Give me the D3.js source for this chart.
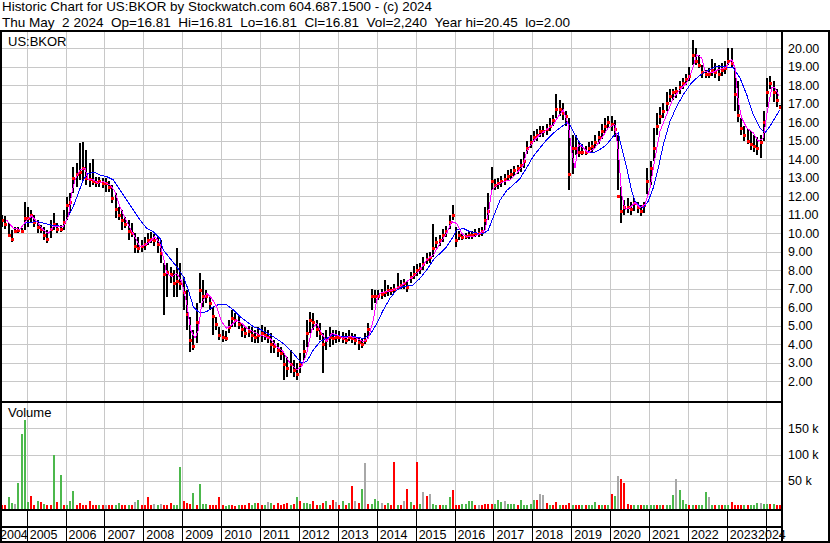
<!DOCTYPE html>
<html><head><meta charset="utf-8">
<script src="https://cdn.jsdelivr.net/npm/d3@7"></script>
<style>
body{margin:0;background:#fff;}
svg text{font-family:Arial,"Liberation Sans",sans-serif;fill:#000;}
</style>
</head><body>
<svg id="c" width="830" height="543"></svg>
<script>
// ---------- DATA ----------
const title1 = "Historic Chart for US:BKOR by Stockwatch.com 604.687.1500 - (c) 2024";
const title2 = "Thu May  2 2024  Op=16.81  Hi=16.81  Lo=16.81  Cl=16.81  Vol=2,240  Year hi=20.45  lo=2.00";
const symbol = "US:BKOR";
const firstMonth = [2004, 5]; // monthly bars start May 2004
const years = d3.range(2004, 2025);
const priceTicks = d3.range(2, 21, 1);
const volTicks = [50, 100, 150];

const closes = [
 10.7,10.5,9.9,9.7,10.1,10.15,10.1,10.8,
 10.8,10.95,10.6,10.3,10.2,9.9,9.7,10.2,10.5,10.2,10.2,10.6,
 11.5,11.7,13.0,13.2,13.3,13.5,13.0,12.9,12.8,12.75,12.8,12.7,
 12.7,12.5,11.9,11.3,11.0,10.7,10.5,10.1,10.0,9.3,9.2,9.3,
 9.4,9.6,9.7,9.6,9.4,8.9,7.8,7.9,7.8,7.3,7.4,7.3,
 6.8,5.6,4.2,3.9,5.2,6.9,6.6,6.6,6.2,5.5,5.1,4.5,
 4.4,4.3,4.9,5.4,5.3,5.1,4.8,4.6,4.7,4.5,4.4,4.5,
 4.6,4.5,4.4,4.0,3.9,3.7,3.5,2.9,2.7,2.9,2.6,2.4,
 2.9,3.6,4.6,5.3,5.2,4.8,4.6,4.0,4.2,4.4,4.3,4.4,
 4.4,4.3,4.2,4.4,4.3,4.2,4.1,4.0,4.2,4.8,6.6,6.6,
 6.6,6.7,6.8,6.9,6.9,7.0,7.1,7.2,7.3,7.1,7.6,7.8,
 8.0,8.1,8.3,8.6,8.7,9.2,9.5,9.6,9.9,10.1,10.6,11.0,
 9.6,9.9,9.8,9.85,9.9,9.9,10.0,10.0,10.1,10.7,11.2,12.8,
 12.6,12.7,12.8,12.9,13.1,13.2,13.4,13.5,13.7,13.9,14.6,14.9,
 15.2,15.3,15.5,15.5,15.6,15.8,16.1,16.7,16.7,16.5,16.3,13.2,
 14.6,14.6,14.4,14.4,14.4,14.6,14.7,14.9,15.2,15.5,15.8,16.0,
 15.9,15.6,12.0,11.2,11.4,11.4,11.3,11.6,11.4,11.2,11.5,12.8,
 13.5,14.6,15.8,16.3,16.6,17.0,17.4,17.6,17.7,17.9,18.1,18.3,
 18.5,19.6,19.3,19.1,18.7,18.6,18.6,18.8,18.7,18.6,18.8,18.9,
 19.3,19.2,17.5,16.4,15.7,15.3,15.0,14.8,14.7,14.6,14.9,16.0,
 17.6,18.1,17.6,17.2,16.81
];
const highs = [
 10.98,10.9,10.52,10.16,10.34,10.3,10.25,11.7,
 11.43,11.25,10.98,10.7,10.43,10.34,10.16,10.7,11.07,10.52,10.43,11.25,
 11.97,12.15,13.59,13.77,14.85,14.94,14.5,13.77,14.0,13.05,13.05,12.96,
 12.96,12.8,12.6,12.15,11.43,11.25,10.88,10.7,10.52,9.98,9.8,9.62,
 9.8,9.98,10.07,9.95,9.8,9.62,8.36,8.36,8.18,8.0,9.17,8.36,
 7.64,6.92,5.48,4.76,6.2,7.82,7.46,6.92,6.56,6.02,5.48,4.94,
 4.76,4.7,5.3,5.84,5.66,5.5,5.12,4.94,5.0,4.94,4.76,4.94,
 5.03,4.94,4.76,4.58,4.22,4.04,3.86,3.5,3.32,3.68,3.14,2.96,
 3.5,4.22,5.3,5.75,5.66,5.3,5.12,4.58,4.76,4.94,4.76,4.76,
 4.7,4.65,4.6,4.75,4.6,4.55,4.4,4.3,4.6,5.12,7.0,6.92,
 6.92,7.0,7.46,7.2,7.1,7.25,7.82,7.45,7.5,7.4,7.9,8.2,
 8.3,8.4,8.7,8.9,9.0,10.5,9.8,9.9,10.2,10.4,11.0,11.5,
 10.34,10.1,10.0,10.0,10.1,10.1,10.2,10.25,10.34,11.4,12.14,13.59,
 12.9,12.95,13.1,13.2,13.4,13.45,13.6,13.7,14.0,14.4,15.0,15.3,
 15.5,15.6,15.8,15.8,15.9,16.2,16.4,17.5,17.2,17.0,16.6,16.2,
 15.3,15.3,14.9,14.8,14.7,14.9,15.0,15.3,15.5,15.9,16.2,16.3,
 16.3,16.1,15.3,12.5,11.8,11.9,11.7,11.9,11.7,11.5,11.7,13.5,
 13.9,15.7,16.5,16.8,17.0,17.6,17.8,17.8,17.9,18.2,18.4,18.6,
 19.0,20.45,20.0,19.6,19.1,18.8,18.9,19.4,19.2,19.1,19.2,19.3,
 20.0,20.0,18.9,18.2,16.2,15.8,15.6,15.5,15.3,15.2,15.3,16.6,
 18.4,18.5,18.2,17.8,16.9
];
const lows = [
 10.34,10.2,9.8,9.53,9.98,9.98,10.0,10.16,
 10.34,10.6,10.34,9.98,9.98,9.62,9.44,9.71,10.16,9.98,10.07,10.16,
 10.7,11.07,12.15,12.5,12.87,12.87,12.6,12.5,12.6,12.5,12.5,12.42,
 12.24,12.2,11.6,10.8,10.7,10.16,10.26,9.62,9.8,8.9,8.9,8.99,
 9.08,9.35,9.44,9.3,8.9,8.36,5.57,6.56,7.28,6.56,6.56,6.92,
 5.84,4.76,3.59,3.68,4.04,6.2,6.02,6.2,5.84,4.49,4.76,4.22,
 4.13,4.15,4.58,4.94,4.94,4.8,4.4,4.31,4.4,4.13,4.04,4.04,
 4.13,4.22,4.04,3.5,3.5,3.32,3.14,2.05,2.23,2.41,2.23,2.05,
 2.41,3.14,3.86,4.58,4.76,4.4,4.22,2.41,3.68,3.86,3.95,4.04,
 4.1,4.05,4.0,4.15,4.05,3.95,3.68,3.8,4.0,4.31,5.84,6.2,
 6.38,6.45,6.56,6.6,6.65,6.75,6.9,6.95,7.0,6.8,7.3,7.5,
 7.7,7.8,8.0,8.3,8.4,8.7,9.2,9.3,9.5,9.8,10.2,10.7,
 9.26,9.6,9.6,9.65,9.7,9.7,9.8,9.8,9.85,10.16,10.7,12.32,
 12.3,12.4,12.5,12.6,12.8,12.9,13.1,13.2,13.3,13.5,14.25,14.6,
 14.9,15.0,15.2,15.2,15.3,15.5,15.8,16.2,16.3,16.1,15.8,12.35,
 13.2,14.2,14.1,14.2,14.2,14.3,14.4,14.6,14.8,15.1,15.4,15.7,
 15.5,15.2,12.3,10.55,11.0,11.1,11.0,11.2,11.1,10.9,11.1,12.1,
 12.6,13.9,15.3,15.9,16.2,16.6,17.1,17.2,17.3,17.5,17.8,18.0,
 18.2,19.1,19.1,18.9,18.4,18.4,18.4,18.5,18.4,18.2,18.5,18.6,
 19.1,18.9,16.6,16.0,15.3,15.0,14.8,14.5,14.4,14.2,14.05,15.0,
 16.8,17.8,17.1,16.8,16.8
];
// monthly volume in thousands
const volumes = [
 3,4,18,8,6,46,139,166,
 10,21,3,11,9,5,4,3,100,9,61,4,
 4,12,30,3,7,4,3,11,4,3,3,3,
 4,3,4,3,8,3,3,4,4,10,13,4,
 3,19,3,6,3,5,4,4,7,3,4,76,
 11,7,5,27,4,44,5,6,3,3,4,19,
 3,2,4,3,2,3,4,3,7,4,8,8,
 3,3,9,7,3,7,4,5,7,4,5,19,
 12,8,8,6,11,4,4,7,12,4,13,9,
 4,12,4,7,39,12,8,35,83,5,5,16,
 11,7,4,8,4,86,4,3,12,34,10,4,
 86,5,28,21,24,5,4,4,3,4,19,33,
 4,3,5,5,11,11,4,3,4,5,5,6,
 5,13,10,12,6,6,5,4,13,4,4,5,
 13,14,24,22,7,4,4,10,3,4,4,7,
 3,4,3,4,3,3,4,10,4,3,3,4,
 24,20,59,53,45,5,4,3,4,3,3,4,
 3,4,3,3,4,3,4,22,53,33,14,5,
 3,4,3,3,4,28,18,4,3,4,3,4,
 4,10,4,3,3,3,3,3,4,7,7,6,
 5,6,5,4,3
];
// volume direction per month: u = up, d = down, f = unchanged
const volDir = [
 "dduufuuu",
 "uddududdudud","uuudddddddud","fdduuddudfud","dddfufddduuu","ddduduuudddd",
 "duudduddduud","dufudddddudu","duuuddududdf","dududfdufduu","ufduddudfdud",
 "dufdfuuduuud","dduuuudfdddd","uuufuuuduuuu","udffdudduddd","udduduuududu",
 "dufdddduuduu","uududuuufuuu","duduuufududu","udddduduuufu",
 "ududd"
].join("").split("");

// moving averages (decimal year, price)
const maLongT = [2004.956,2005.257,2005.599,2005.941,2006.028,2006.198,2006.327,2006.455,2006.584,2006.756,2006.885,2007.057,2007.226,2007.399,2007.571,2007.741,2007.913,2008.085,2008.255,2008.427,2008.512,2008.684,2008.857,2009.026,2009.155,2009.283,2009.456,2009.628,2009.798,2009.970,2010.142,2010.312,2010.484,2010.656,2010.826,2011.000,2011.340,2011.597,2011.854,2012.070,2012.199,2012.369,2012.541,2012.713,2012.883,2013.140,2013.397,2013.654,2013.826,2013.999,2014.168,2014.341,2014.513,2014.683,2014.940,2015.112,2015.284,2015.454,2015.626,2015.798,2015.968,2016.055,2016.225,2016.398,2016.570,2016.740,2016.868,2016.997,2017.169,2017.341,2017.511,2017.683,2017.855,2018.025,2018.197,2018.369,2018.539,2018.711,2018.883,2018.966,2019.095,2019.224,2019.397,2019.566,2019.738,2019.912,2020.081,2020.210,2020.297,2020.425,2020.554,2020.639,2020.768,2020.853,2020.981,2021.110,2021.239,2021.367,2021.539,2021.712,2021.882,2022.054,2022.226,2022.396,2022.568,2022.740,2022.910,2023.167,2023.339,2023.511,2023.681,2023.853,2023.982,2024.111,2024.239,2024.368];
const maLongV = [10.53,10.62,10.44,10.35,10.71,11.43,12.15,12.87,13.23,13.26,13.14,13.05,12.87,12.33,11.79,11.25,10.71,10.26,10.07,9.71,9.08,8.63,8.18,7.64,6.92,6.02,5.66,5.75,6.02,6.16,6.11,5.84,5.48,5.21,4.94,4.80,4.40,4.03,3.50,2.96,3.05,3.67,4.13,4.30,4.49,4.40,4.40,4.30,4.49,5.10,5.84,6.47,6.92,7.10,7.19,7.55,8.00,8.54,8.90,9.26,9.80,10.16,10.25,10.07,10.00,9.98,10.16,10.88,11.78,12.30,12.60,12.95,13.53,14.15,14.60,15.04,15.40,15.68,15.95,15.86,15.32,14.87,14.42,14.33,14.51,14.78,15.23,15.41,14.60,13.53,12.27,11.73,11.46,11.37,11.73,12.45,13.53,14.78,16.04,16.85,17.48,18.02,18.38,18.65,18.83,19.01,19.01,18.92,18.38,17.48,16.40,15.68,15.41,15.77,16.22,16.67];
const maShortT = [2004.486,2004.655,2004.828,2005.000,2005.129,2005.257,2005.427,2005.555,2005.684,2005.812,2005.941,2006.070,2006.157,2006.242,2006.370,2006.499,2006.584,2006.712,2006.841,2006.969,2007.142,2007.270,2007.399,2007.527,2007.656,2007.784,2007.913,2008.041,2008.170,2008.298,2008.427,2008.512,2008.599,2008.728,2008.857,2008.985,2009.114,2009.217,2009.327,2009.412,2009.499,2009.628,2009.756,2009.885,2010.013,2010.142,2010.271,2010.399,2010.528,2010.656,2010.826,2010.998,2011.255,2011.428,2011.597,2011.770,2011.942,2012.070,2012.199,2012.327,2012.456,2012.584,2012.713,2012.842,2012.970,2013.140,2013.312,2013.484,2013.654,2013.783,2013.911,2013.999,2014.083,2014.256,2014.426,2014.598,2014.770,2014.940,2015.112,2015.284,2015.454,2015.626,2015.798,2015.927,2016.055,2016.184,2016.313,2016.482,2016.655,2016.783,2016.868,2016.955,2017.084,2017.254,2017.426,2017.598,2017.768,2017.855,2018.025,2018.197,2018.369,2018.539,2018.668,2018.797,2018.925,2019.012,2019.097,2019.182,2019.310,2019.439,2019.611,2019.783,2019.953,2020.125,2020.210,2020.297,2020.382,2020.511,2020.639,2020.768,2020.897,2021.025,2021.154,2021.282,2021.454,2021.624,2021.797,2021.969,2022.097,2022.226,2022.354,2022.439,2022.611,2022.781,2022.953,2023.125,2023.210,2023.295,2023.382,2023.511,2023.681,2023.810,2023.939,2024.042,2024.155,2024.239,2024.350];
const maShortV = [10.70,10.26,10.20,10.70,10.92,10.62,10.16,9.98,10.34,10.34,10.34,10.88,12.15,12.87,13.41,13.50,12.87,12.87,12.69,12.78,12.60,12.24,11.43,10.80,10.26,9.80,9.26,9.35,9.53,9.80,9.44,8.72,7.82,7.64,7.82,7.37,6.20,4.76,4.31,4.76,6.20,6.74,6.47,6.02,5.21,4.85,5.03,5.30,5.12,4.85,4.67,4.49,4.31,3.86,3.59,2.96,2.60,2.78,3.50,4.76,5.12,4.58,4.13,4.58,4.49,4.31,4.40,4.31,4.13,4.31,5.30,6.38,6.74,6.83,6.92,7.10,7.37,7.64,8.00,8.54,8.81,9.44,9.98,10.61,10.52,9.98,9.80,9.80,9.98,10.16,11.06,12.32,12.59,12.77,12.86,13.23,13.67,14.42,14.96,15.32,15.59,15.86,16.31,16.67,15.86,14.42,13.53,14.78,14.60,14.33,14.60,15.14,15.68,15.86,14.42,12.09,11.28,11.37,11.64,11.37,11.55,12.45,14.06,15.50,16.40,17.30,17.75,18.11,18.74,19.64,19.46,18.74,18.65,18.83,18.92,19.37,18.92,17.12,16.22,15.68,15.41,14.96,15.14,16.58,17.84,17.84,17.39];

// ---------- CHART ----------
const svg = d3.select("#c");
const W = 830, H = 543;
const plotL = 2, plotR = 781;
const priceTop = 32, priceBot = 401;
const volTop = 403, volBot = 509;

const monthDate = i => new Date(firstMonth[0], firstMonth[1] - 1 + i, 15);
const decDate = d => { const yy = Math.floor(d); const s = new Date(yy,0,1), e = new Date(yy+1,0,1); return new Date(+s + (d - yy) * (e - s)); };

const x = d3.scaleTime().domain([new Date(2005,0,1), new Date(2024,0,1)]).range([26.7, 765.7]);
const y = d3.scaleLinear().domain([2, 20]).range([381, 48]);
const yv = d3.scaleLinear().domain([0, 150]).range([506.9, 428.3]);

svg.append("rect").attr("width", W).attr("height", H).attr("fill", "#fff");

const defs = svg.append("defs");
defs.append("clipPath").attr("id","cp").append("rect").attr("x",plotL).attr("y",priceTop).attr("width",plotR-plotL).attr("height",priceBot-priceTop);
defs.append("clipPath").attr("id","cv").append("rect").attr("x",plotL).attr("y",volTop).attr("width",plotR-plotL).attr("height",volBot-volTop);

// header (double spaces kept with non-breaking spaces)
const keepSpaces = s => s.replace(/  /g, "\u00a0 ");
svg.append("text").attr("x",2).attr("y",11).attr("font-size",13.5)
  .attr("textLength",430).attr("lengthAdjust","spacingAndGlyphs").text(keepSpaces(title1));
svg.append("text").attr("x",2).attr("y",27).attr("font-size",13.5)
  .attr("textLength",568).attr("lengthAdjust","spacingAndGlyphs").text(keepSpaces(title2));

const yearStarts = years.map(yr => new Date(yr,0,1));
const gridC = "#c8c8c8";
// grid - price
const gp = svg.append("g").attr("clip-path","url(#cp)").attr("shape-rendering","crispEdges");
gp.selectAll("line.h").data(priceTicks).join("line")
  .attr("x1",plotL).attr("x2",plotR).attr("y1",d=>Math.round(y(d))+0.5).attr("y2",d=>Math.round(y(d))+0.5)
  .attr("stroke",gridC);
gp.selectAll("line.v").data(yearStarts).join("line")
  .attr("x1",d=>Math.round(x(d))+0.5).attr("x2",d=>Math.round(x(d))+0.5).attr("y1",priceTop).attr("y2",priceBot)
  .attr("stroke",gridC);
// grid - volume
const gv = svg.append("g").attr("clip-path","url(#cv)").attr("shape-rendering","crispEdges");
gv.selectAll("line.h").data(volTicks).join("line")
  .attr("x1",plotL).attr("x2",plotR).attr("y1",d=>Math.round(yv(d))+0.5).attr("y2",d=>Math.round(yv(d))+0.5)
  .attr("stroke",gridC);
gv.selectAll("line.v").data(yearStarts).join("line")
  .attr("x1",d=>Math.round(x(d))+0.5).attr("x2",d=>Math.round(x(d))+0.5).attr("y1",volTop).attr("y2",volBot)
  .attr("stroke",gridC);

// price bars
const bars = closes.map((c,i) => ({d: monthDate(i), c, h: highs[i], l: lows[i], v: volumes[i], dir: volDir[i] || "u"}));
const pg = svg.append("g").attr("clip-path","url(#cp)").attr("shape-rendering","crispEdges");
pg.selectAll("rect.bar").data(bars).join("rect")
  .attr("x",d=>Math.round(x(d.d))-1).attr("width",2)
  .attr("y",d=>Math.round(y(d.h))).attr("height",d=>Math.max(2,Math.round(y(d.l))-Math.round(y(d.h))))
  .attr("fill","#000");
pg.selectAll("rect.dot").data(bars).join("rect")
  .attr("x",d=>Math.round(x(d.d))-1).attr("width",3)
  .attr("y",d=>Math.round(y(d.c))-1).attr("height",3)
  .attr("fill","#ff0000");

const line = d3.line().x(d=>x(d[0])).y(d=>y(d[1]));
pg.append("path").datum(maLongT.map((t,i)=>[decDate(t), maLongV[i]]))
  .attr("d",line).attr("fill","none").attr("stroke","#0000ff").attr("stroke-width",1);
pg.append("path").datum(maShortT.map((t,i)=>[decDate(t), maShortV[i]]))
  .attr("d",line).attr("fill","none").attr("stroke","#ff00ff").attr("stroke-width",1);

// volume bars
const volColor = {u:"#4cb84c", d:"#ff0000", f:"#a8a8a8"};
const vg = svg.append("g").attr("clip-path","url(#cv)").attr("shape-rendering","crispEdges");
vg.selectAll("rect").data(bars).join("rect")
  .attr("x",d=>Math.round(x(d.d))-1).attr("width",2)
  .attr("y",d=>Math.round(yv(d.v))).attr("height",d=>volBot-Math.round(yv(d.v)))
  .attr("fill",d=>volColor[d.dir]);

// labels inside panels
svg.append("text").attr("x",8).attr("y",46).attr("font-size",13).text(symbol);
svg.append("text").attr("x",8).attr("y",417).attr("font-size",13).text("Volume");

// right axes
svg.append("g").selectAll("text").data(priceTicks).join("text")
  .attr("x",788).attr("y",d=>y(d)).attr("dy","0.36em").attr("font-size",12.5).text(d=>d.toFixed(2));
svg.append("g").selectAll("text").data(volTicks).join("text")
  .attr("x",788).attr("y",d=>yv(d)).attr("dy","0.36em").attr("font-size",12.5).text(d=>d+" k");

// x axis strip + labels
const ag = svg.append("g").attr("shape-rendering","crispEdges");
ag.selectAll("line").data(yearStarts.slice(1)).join("line")
  .attr("x1",d=>Math.round(x(d))+0.5).attr("x2",d=>Math.round(x(d))+0.5).attr("y1",511).attr("y2",541)
  .attr("stroke","#000");
svg.append("g").selectAll("text").data(years).join("text")
  .attr("x",d=> d === years[0] ? 0 : Math.min(x(new Date(d,0,1)) + 3, 758))
  .attr("y",539).attr("font-size",12.5).text(d=>d);

// frame
const fr = svg.append("g").attr("fill","#000").attr("shape-rendering","crispEdges");
fr.append("rect").attr("x",0).attr("y",30).attr("width",W).attr("height",2);
fr.append("rect").attr("x",0).attr("y",30).attr("width",2).attr("height",H-30);
fr.append("rect").attr("x",781).attr("y",30).attr("width",2).attr("height",H-30);
fr.append("rect").attr("x",828).attr("y",30).attr("width",2).attr("height",H-30);
fr.append("rect").attr("x",0).attr("y",401).attr("width",783).attr("height",2);
fr.append("rect").attr("x",0).attr("y",509).attr("width",783).attr("height",2);
fr.append("rect").attr("x",0).attr("y",526).attr("width",783).attr("height",2);
fr.append("rect").attr("x",0).attr("y",541).attr("width",W).attr("height",2);
</script>
</body></html>
